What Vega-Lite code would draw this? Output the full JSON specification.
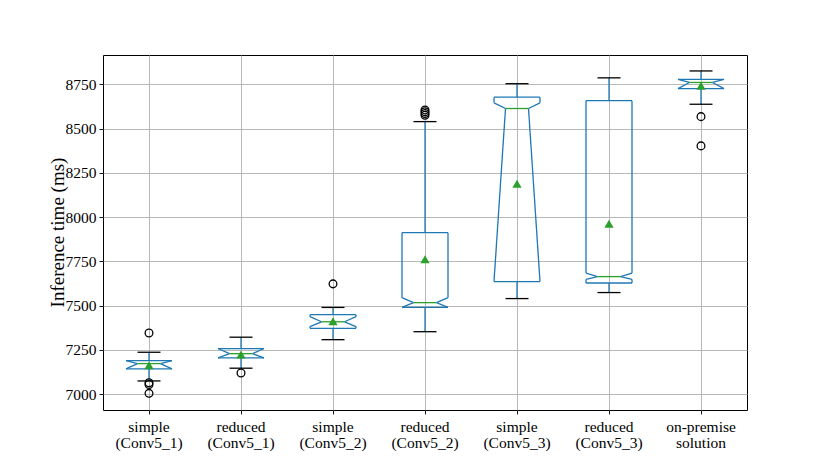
{
  "$schema": "https://vega.github.io/schema/vega-lite/v6.json",
  "width": 644,
  "height": 355,
  "autosize": {"type": "none"},
  "padding": {"left": 103, "top": 55, "right": 83, "bottom": 51},
  "background": "white",
  "config": {
    "view": {"stroke": "black", "strokeWidth": 1},
    "axis": {
      "labelFont": "Liberation Serif",
      "titleFont": "Liberation Serif",
      "labelColor": "black",
      "titleColor": "black",
      "titleFontWeight": "normal",
      "domain": false,
      "tickColor": "black",
      "tickSize": 4,
      "tickWidth": 0.9,
      "gridColor": "#b0b0b0",
      "gridWidth": 0.9,
      "gridOpacity": 1
    }
  },
  "datasets": {
    "boxes": [
      {"cat": "simple\n(Conv5_1)", "lo": 7075, "q1": 7143, "med": 7173, "q3": 7190, "hi": 7237, "mean": 7163, "nlo": 7143, "nhi": 7190},
      {"cat": "reduced\n(Conv5_1)", "lo": 7147, "q1": 7205, "med": 7229, "q3": 7258, "hi": 7322, "mean": 7224, "nlo": 7205, "nhi": 7258},
      {"cat": "simple\n(Conv5_2)", "lo": 7308, "q1": 7372, "med": 7409, "q3": 7449, "hi": 7490, "mean": 7412, "nlo": 7382, "nhi": 7438},
      {"cat": "reduced\n(Conv5_2)", "lo": 7353, "q1": 7490, "med": 7517, "q3": 7912, "hi": 8539, "mean": 7762, "nlo": 7490, "nhi": 7545},
      {"cat": "simple\n(Conv5_3)", "lo": 7540, "q1": 7636, "med": 8613, "q3": 8677, "hi": 8753, "mean": 8188, "nlo": 7636, "nhi": 8645},
      {"cat": "reduced\n(Conv5_3)", "lo": 7574, "q1": 7628, "med": 7664, "q3": 8657, "hi": 8786, "mean": 7963, "nlo": 7648, "nhi": 7684},
      {"cat": "on-premise\nsolution", "lo": 8637, "q1": 8725, "med": 8760, "q3": 8777, "hi": 8825, "mean": 8742, "nlo": 8725, "nhi": 8777}
    ],
    "outliers": [
      {"cat": "simple\n(Conv5_1)", "v": 7346},
      {"cat": "simple\n(Conv5_1)", "v": 7065},
      {"cat": "simple\n(Conv5_1)", "v": 7055},
      {"cat": "simple\n(Conv5_1)", "v": 7005},
      {"cat": "reduced\n(Conv5_1)", "v": 7120},
      {"cat": "simple\n(Conv5_2)", "v": 7623},
      {"cat": "reduced\n(Conv5_2)", "v": 8575},
      {"cat": "reduced\n(Conv5_2)", "v": 8585},
      {"cat": "reduced\n(Conv5_2)", "v": 8595},
      {"cat": "reduced\n(Conv5_2)", "v": 8605},
      {"cat": "on-premise\nsolution", "v": 8567},
      {"cat": "on-premise\nsolution", "v": 8402}
    ]
  },
  "data": {"name": "boxes"},
  "layer": [
    {
      "mark": {"type": "rule", "color": "#1f77b4", "strokeWidth": 1.3},
      "encoding": {
        "x": {"field": "cat", "type": "nominal", "sort": null, "title": null,
          "scale": {"paddingInner": 0, "paddingOuter": 0},
          "axis": {"labelAngle": 0, "bandPosition": 0.5, "labelExpr": "split(datum.label, '\\n')", "labelFontSize": 15.5, "labelLineHeight": 16, "labelPadding": 5, "grid": true, "labelBaseline": "top"}},
        "y": {"field": "lo", "type": "quantitative", "title": "Inference time (ms)",
          "scale": {"domain": [6911, 8915], "nice": false, "zero": false},
          "axis": {"values": [7000, 7250, 7500, 7750, 8000, 8250, 8500, 8750], "format": "d", "labelFontSize": 15.5, "labelPadding": 3, "titleFontSize": 19, "titleX": -46, "titleY": 177, "titleBaseline": "middle", "titleAngle": -90, "titleAlign": "center"}},
        "y2": {"field": "q1"}
      }
    },
    {
      "mark": {"type": "rule", "color": "#1f77b4", "strokeWidth": 1.3},
      "encoding": {
        "x": {"field": "cat", "type": "nominal", "sort": null, "title": null},
        "y": {"field": "q3", "type": "quantitative", "title": "Inference time (ms)"},
        "y2": {"field": "hi"}
      }
    },
    {
      "mark": {"type": "rule", "color": "black", "strokeWidth": 1.3},
      "encoding": {
        "x": {"field": "cat", "type": "nominal", "sort": null, "title": null, "bandPosition": 0.375},
        "x2": {"field": "cat", "bandPosition": 0.625},
        "y": {"field": "lo", "type": "quantitative", "title": "Inference time (ms)"}
      }
    },
    {
      "mark": {"type": "rule", "color": "black", "strokeWidth": 1.3},
      "encoding": {
        "x": {"field": "cat", "type": "nominal", "sort": null, "title": null, "bandPosition": 0.375},
        "x2": {"field": "cat", "bandPosition": 0.625},
        "y": {"field": "hi", "type": "quantitative", "title": "Inference time (ms)"}
      }
    },
    {
      "mark": {"type": "rule", "color": "#1f77b4", "strokeWidth": 1.3},
      "encoding": {
        "x": {"field": "cat", "type": "nominal", "sort": null, "title": null, "bandPosition": 0.25},
        "x2": {"field": "cat", "bandPosition": 0.75},
        "y": {"field": "q3", "type": "quantitative", "title": "Inference time (ms)"}
      }
    },
    {
      "mark": {"type": "rule", "color": "#1f77b4", "strokeWidth": 1.3},
      "encoding": {
        "x": {"field": "cat", "type": "nominal", "sort": null, "title": null, "bandPosition": 0.25},
        "x2": {"field": "cat", "bandPosition": 0.75},
        "y": {"field": "q1", "type": "quantitative", "title": "Inference time (ms)"}
      }
    },
    {
      "mark": {"type": "rule", "color": "#1f77b4", "strokeWidth": 1.3},
      "encoding": {
        "x": {"field": "cat", "type": "nominal", "sort": null, "title": null, "bandPosition": 0.75},
        "y": {"field": "q3", "type": "quantitative", "title": "Inference time (ms)"},
        "y2": {"field": "nhi"}
      }
    },
    {
      "mark": {"type": "rule", "color": "#1f77b4", "strokeWidth": 1.3},
      "encoding": {
        "x": {"field": "cat", "type": "nominal", "sort": null, "title": null, "bandPosition": 0.25},
        "y": {"field": "q3", "type": "quantitative", "title": "Inference time (ms)"},
        "y2": {"field": "nhi"}
      }
    },
    {
      "mark": {"type": "rule", "color": "#1f77b4", "strokeWidth": 1.3},
      "encoding": {
        "x": {"field": "cat", "type": "nominal", "sort": null, "title": null, "bandPosition": 0.75},
        "y": {"field": "nlo", "type": "quantitative", "title": "Inference time (ms)"},
        "y2": {"field": "q1"}
      }
    },
    {
      "mark": {"type": "rule", "color": "#1f77b4", "strokeWidth": 1.3},
      "encoding": {
        "x": {"field": "cat", "type": "nominal", "sort": null, "title": null, "bandPosition": 0.25},
        "y": {"field": "nlo", "type": "quantitative", "title": "Inference time (ms)"},
        "y2": {"field": "q1"}
      }
    },
    {
      "mark": {"type": "rule", "color": "#1f77b4", "strokeWidth": 1.3},
      "encoding": {
        "x": {"field": "cat", "type": "nominal", "sort": null, "title": null, "bandPosition": 0.75},
        "x2": {"field": "cat", "bandPosition": 0.625},
        "y": {"field": "nhi", "type": "quantitative", "title": "Inference time (ms)"},
        "y2": {"field": "med"}
      }
    },
    {
      "mark": {"type": "rule", "color": "#1f77b4", "strokeWidth": 1.3},
      "encoding": {
        "x": {"field": "cat", "type": "nominal", "sort": null, "title": null, "bandPosition": 0.25},
        "x2": {"field": "cat", "bandPosition": 0.375},
        "y": {"field": "nhi", "type": "quantitative", "title": "Inference time (ms)"},
        "y2": {"field": "med"}
      }
    },
    {
      "mark": {"type": "rule", "color": "#1f77b4", "strokeWidth": 1.3},
      "encoding": {
        "x": {"field": "cat", "type": "nominal", "sort": null, "title": null, "bandPosition": 0.625},
        "x2": {"field": "cat", "bandPosition": 0.75},
        "y": {"field": "med", "type": "quantitative", "title": "Inference time (ms)"},
        "y2": {"field": "nlo"}
      }
    },
    {
      "mark": {"type": "rule", "color": "#1f77b4", "strokeWidth": 1.3},
      "encoding": {
        "x": {"field": "cat", "type": "nominal", "sort": null, "title": null, "bandPosition": 0.375},
        "x2": {"field": "cat", "bandPosition": 0.25},
        "y": {"field": "med", "type": "quantitative", "title": "Inference time (ms)"},
        "y2": {"field": "nlo"}
      }
    },
    {
      "mark": {"type": "rule", "color": "#2ca02c", "strokeWidth": 1.3},
      "encoding": {
        "x": {"field": "cat", "type": "nominal", "sort": null, "title": null, "bandPosition": 0.375},
        "x2": {"field": "cat", "bandPosition": 0.625},
        "y": {"field": "med", "type": "quantitative", "title": "Inference time (ms)"}
      }
    },
    {
      "mark": {"type": "point", "shape": "triangle-up", "filled": true, "color": "#2ca02c", "opacity": 1, "size": 85},
      "encoding": {
        "x": {"field": "cat", "type": "nominal", "sort": null, "title": null},
        "y": {"field": "mean", "type": "quantitative", "title": "Inference time (ms)"}
      }
    },
    {
      "data": {"name": "outliers"},
      "mark": {"type": "point", "shape": "circle", "filled": false, "color": "black", "opacity": 1, "size": 60, "strokeWidth": 1.3},
      "encoding": {
        "x": {"field": "cat", "type": "nominal", "sort": null, "title": null},
        "y": {"field": "v", "type": "quantitative", "title": "Inference time (ms)"}
      }
    }
  ]
}
